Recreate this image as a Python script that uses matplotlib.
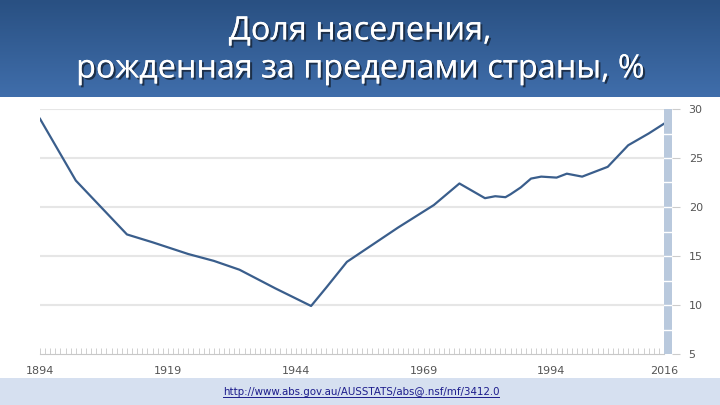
import numpy as np
import matplotlib.pyplot as plt
import matplotlib.patheffects as pe
from matplotlib.patches import Rectangle

# values
years = [1894, 1901, 1905, 1911, 1916, 1923, 1928, 1933, 1940, 1947, 1950,
         1954, 1958, 1964, 1971, 1976, 1981, 1983, 1985, 1986, 1988, 1990,
         1992, 1995, 1997, 2000, 2005, 2009, 2011, 2013, 2016]
share = [29.0, 22.7, 20.5, 17.2, 16.4, 15.2, 14.5, 13.6, 11.7, 9.9, 11.8,
         14.4, 15.8, 17.9, 20.2, 22.4, 20.9, 21.1, 21.0, 21.3, 22.0, 22.9,
         23.1, 23.0, 23.4, 23.1, 24.1, 26.3, 26.9, 27.5, 28.5]
xtick_years = [1894, 1919, 1944, 1969, 1994, 2016]
ytick_vals = [5, 10, 15, 20, 25, 30]

title = "Доля населения,\nрожденная за пределами страны, %"
source = "http://www.abs.gov.au/AUSSTATS/abs@.nsf/mf/3412.0"

W, H = 720, 405
fig = plt.figure(figsize=(W / 100, H / 100), dpi=100)
fig.patch.set_facecolor("white")

def fx(px):
    return px / W

def fy(py):
    return 1 - py / H

# title band with vertical gradient
band = fig.add_axes([0, fy(97), 1, 97 / H])
grad = np.linspace(0, 1, 100).reshape(-1, 1)
top = np.array([0x29, 0x50, 0x82]) / 255
bot = np.array([0x40, 0x6e, 0xab]) / 255
img = top + (bot - top) * grad[..., None]
band.imshow(img, aspect="auto", extent=[0, 1, 0, 1])
band.set_axis_off()

fig.text(0.5, fy(50), title, ha="center", va="center", color="white",
         fontsize=23.3, family="Open Sans", linespacing=1.2,
         path_effects=[pe.withSimplePatchShadow(offset=(1.5, -1.5),
                                                shadow_rgbFace="#1a2a40", alpha=0.9),
                       pe.Normal()])

# bottom source band
fig.patches.append(Rectangle((0, 0), 1, 27 / H, transform=fig.transFigure,
                             facecolor="#d6e0f0", edgecolor="none", zorder=0))
src = fig.text(fx(361), fy(392), source, ha="center", va="center",
               fontsize=7.4, color="#1c1c8c")

# main chart
ax = fig.add_axes([fx(40), fy(354), fx(624), (354 - 109) / H])
ax.plot(years, share, color="#3a5e8c", lw=1.6, solid_joinstyle="round", zorder=3)
ax.set_xlim(1894, 2016)
ax.set_ylim(5, 30)
for v in ytick_vals[1:]:
    ax.axhline(v, color="#e6e6e6", lw=1.5, zorder=1)
for s in ["top", "right", "left"]:
    ax.spines[s].set_visible(False)
ax.spines["bottom"].set_color("#c8c8c8")
ax.set_yticks([])
ax.set_xticks(xtick_years)
ax.set_xticks([y for y in range(1894, 2017) if y not in xtick_years], minor=True)
ax.tick_params(axis="x", which="both", direction="in", length=4,
               color="#c8c8c8", width=0.6)
ax.tick_params(axis="x", which="major", labelsize=8, labelcolor="#555555", pad=9)
ax.patch.set_alpha(0)

# range bar on the right with y labels
bar = fig.add_axes([fx(664), fy(354), fx(8), (354 - 109) / H])
bar.set_facecolor("#b9c9dd")
bar.set_ylim(5, 30)
bar.set_xlim(0, 1)
for v in np.arange(7.5, 30, 2.5):
    bar.axhline(v, color="white", lw=1)
for s in bar.spines.values():
    s.set_visible(False)
bar.set_xticks([])
bar.yaxis.tick_right()
bar.set_yticks(ytick_vals)
bar.tick_params(axis="y", direction="out", length=6, color="#cccccc",
                labelsize=8, labelcolor="#555555", pad=6)

# underline for the source link
fig.canvas.draw()
bb = src.get_window_extent()
x0, x1 = bb.x0 / W, bb.x1 / W
yl = (bb.y0 + 0.5) / H
fig.add_artist(plt.Line2D([x0, x1], [yl, yl], transform=fig.transFigure,
                          color="#1c1c8c", lw=0.7))

fig.savefig("out.png", dpi=100)
